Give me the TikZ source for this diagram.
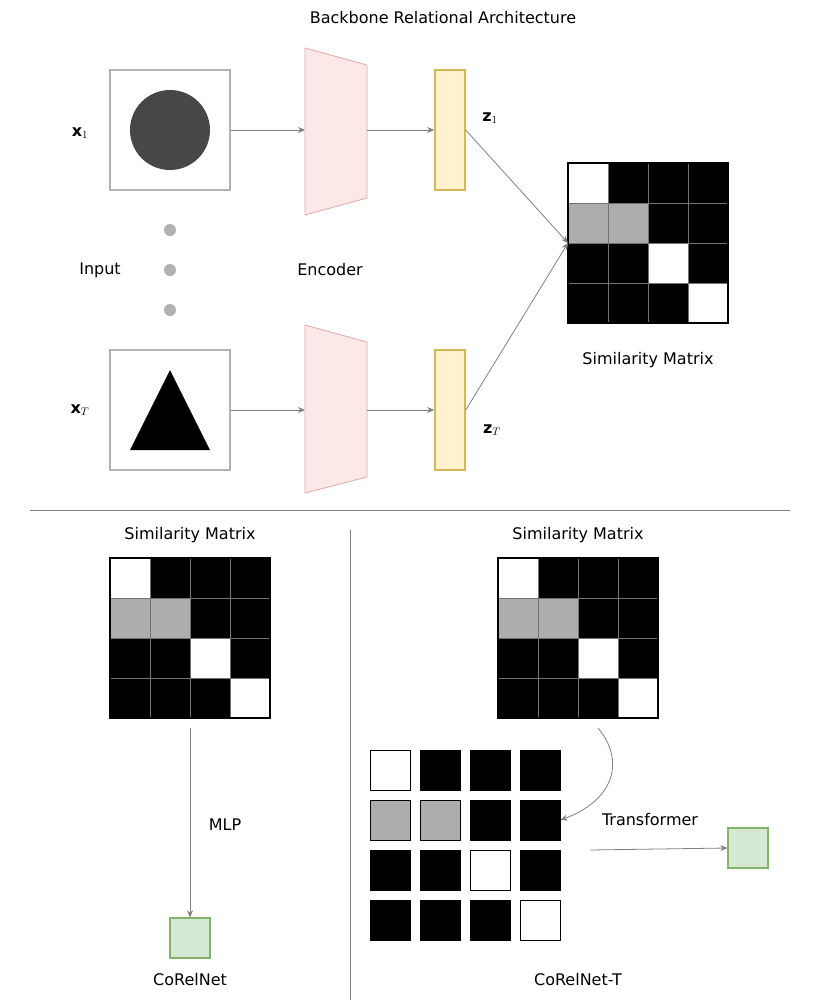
\documentclass[tikz,border=0pt]{standalone}
\usepackage{fontspec}
\setmainfont{DejaVu Sans}
\usetikzlibrary{arrows.meta}
\definecolor{encfill}{HTML}{FDE8E8}
\definecolor{encdraw}{HTML}{E0A8A8}
\definecolor{zfill}{HTML}{FFF2CC}
\definecolor{zdraw}{HTML}{D6B656}
\definecolor{outfill}{HTML}{D5E8D4}
\definecolor{outdraw}{HTML}{82B366}
\colorlet{mw}{white}
\colorlet{mb}{black}
\colorlet{mg}{black!32}
\tikzset{
	lbl/.style={font=\fontsize{16}{19}\selectfont},
	arr/.style={-{Stealth[length=7pt,width=6pt]},color=black!50,line width=0.8pt},
	cell/.style={minimum size=40pt,inner sep=0pt,outer sep=0pt,draw=black!55,line width=1pt},
	box/.style={minimum size=40pt,inner sep=0pt,draw=black,line width=1pt},
	simmat/.pic={
		\foreach \row [count=\r from 0] in {{mw,mb,mb,mb},{mg,mg,mb,mb},{mb,mb,mw,mb},{mb,mb,mb,mw}}
			\foreach \col [count=\c from 0] in \row
				\node[cell,fill=\col,draw=\ifx\col\empty black\else black!55\fi] at (20+40*\c,20+40*\r) {};
		\draw[line width=1.5pt] (0,0) rectangle (160,160);
	}
}
\begin{document}
\begin{tikzpicture}[x=1pt,y=-1pt]
	\useasboundingbox (0,0) rectangle (831,1004);

	% top part
	\node[lbl](title) at (443,18) {Backbone Relational Architecture};

	\node[draw=black!30,line width=1.2pt,minimum size=120pt,inner sep=0pt](in1) at (170,130) {};
	\fill[black!72] (170,130) circle (40);
	\node[draw=black!30,line width=1.2pt,minimum size=120pt,inner sep=0pt](in2) at (170,410) {};
	\fill[black] (130,450) -- (210,450) -- (170,370) -- cycle;
	\node[lbl](x1) at (80,133) {$\mathbf{x}_1$};
	\node[lbl](xT) at (80,410) {$\mathbf{x}_T$};
	\foreach \y in {230,270,310}
		\fill[black!30] (170,\y) circle (6);
	\node[lbl](input) at (100,270) {Input};

	\draw[fill=encfill,draw=encdraw,line width=0.8pt] (305,48) -- (367,65) -- (367,198) -- (305,215) -- cycle;
	\draw[fill=encfill,draw=encdraw,line width=0.8pt] (305,325) -- (367,342) -- (367,477) -- (305,493) -- cycle;
	\node[lbl](enc) at (330,270) {Encoder};
	\coordinate(e1l) at (305,130);
	\coordinate(e1r) at (367,130);
	\coordinate(e2l) at (305,410);
	\coordinate(e2r) at (367,410);

	\node[draw=zdraw,fill=zfill,line width=1.5pt,minimum width=30pt,minimum height=120pt,inner sep=0pt](z1) at (450,130) {};
	\node[draw=zdraw,fill=zfill,line width=1.5pt,minimum width=30pt,minimum height=120pt,inner sep=0pt](zT) at (450,410) {};
	\node[lbl](z1l) at (490,118) {$\mathbf{z}_1$};
	\node[lbl](zTl) at (492,430) {$\mathbf{z}_T$};

	\draw[arr](in1.east) -- (e1l);
	\draw[arr](e1r) -- (z1.west);
	\draw[arr](in2.east) -- (e2l);
	\draw[arr](e2r) -- (zT.west);

	\pic at (568,163) {simmat};
	\coordinate(m0) at (568,243);
	\draw[arr](z1.east) -- (m0);
	\draw[arr](zT.east) -- (m0);
	\node[lbl](m0l) at (648,360) {Similarity Matrix};

	% separators
	\draw[black!50,line width=1pt] (30,510) -- (790,510);
	\draw[black!50,line width=1pt] (350,530) -- (350,1000);

	% CoRelNet
	\node[lbl](m1l) at (190,535) {Similarity Matrix};
	\pic at (110,558) {simmat};
	\node[draw=outdraw,fill=outfill,line width=1.2pt,minimum size=40pt,inner sep=0pt](o1) at (190,938) {};
	\coordinate(m1) at (190,728);
	\draw[arr](m1) -- (o1.north);
	\node[lbl](mlp) at (225,825) {MLP};
	\node[lbl](crn) at (190,980) {CoRelNet};

	% CoRelNet-T
	\node[lbl](m2l) at (578,535) {Similarity Matrix};
	\pic at (498,558) {simmat};
	\foreach \row [count=\r from 0] in {{mw,mb,mb,mb},{mg,mg,mb,mb},{mb,mb,mw,mb},{mb,mb,mb,mw}}
		\foreach \col [count=\c from 0] in \row
			\node[box,fill=\col](t\r\c) at (390+50*\c,770+50*\r) {};
	\coordinate(m2) at (598,728);
	\draw[arr] (m2) .. controls (625,760) and (615,800) .. (t13.east);
	\node[lbl](tr) at (650,820) {Transformer};
	\node[draw=outdraw,fill=outfill,line width=1.2pt,minimum size=40pt,inner sep=0pt](o2) at (748,848) {};
	\coordinate(trs) at (590,850);
	\draw[arr](trs) -- (o2.west);
	\node[lbl](crnt) at (578,980) {CoRelNet-T};
\end{tikzpicture}
\end{document}
